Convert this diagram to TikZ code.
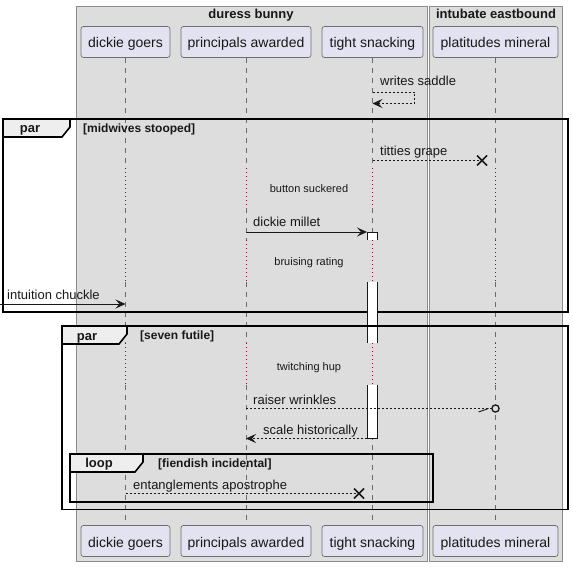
\documentclass[tikz,border=0pt]{standalone}
\usepackage{fontspec}
\setmainfont{Liberation Sans}
\usetikzlibrary{arrows.meta,calc}

\definecolor{boxfill}{HTML}{DDDDDD}
\definecolor{boxline}{HTML}{8C8C8C}
\definecolor{partfill}{HTML}{E2E2F0}
\definecolor{partline}{HTML}{6E6E6E}
\definecolor{ink}{HTML}{181818}
\definecolor{lifegray}{HTML}{6A6A6A}
\definecolor{delayred}{HTML}{A80036}
\definecolor{tabfill}{HTML}{EEEEEE}

\begin{document}
\begin{tikzpicture}[x=1pt,y=-1pt,
  grp/.style={draw=boxline, fill=boxfill, line width=0.8pt},
  grptitle/.style={font=\fontsize{13}{15}\selectfont\bfseries, text=ink, inner sep=0pt, anchor=base},
  part/.style={draw=partline, fill=partfill, rounded corners=2.5pt, line width=0.7pt,
    minimum height=31pt, inner sep=0pt, text height=13pt, text depth=1pt,
    font=\fontsize{14}{16}\selectfont, text=ink},
  lifeline/.style={draw=lifegray, line width=0.6pt, dash pattern=on 5pt off 5pt},
  delayline/.style={draw=delayred, line width=0.8pt, dash pattern=on 1pt off 3pt},
  tip/.tip={Stealth[length=10pt,width=9pt,inset=4pt]},
  msg/.style={draw=ink, line width=0.8pt, -tip},
  dmsg/.style={draw=ink, line width=0.7pt, dash pattern=on 2pt off 2pt},
  dmsgarrow/.style={dmsg, -tip},
  msglabel/.style={font=\fontsize{13}{15}\selectfont, text=ink, inner sep=0pt, anchor=base west},
  delaylabel/.style={font=\fontsize{11}{13}\selectfont, text=ink, inner sep=0pt, anchor=base},
  frame/.style={draw=black, line width=1.6pt},
  tab/.style={draw=black, fill=tabfill, line width=1.6pt},
  tabtext/.style={font=\fontsize{13}{15}\selectfont\bfseries, text=ink, inner sep=0pt, anchor=base},
  guard/.style={font=\fontsize{12}{14}\selectfont\bfseries, text=ink, inner sep=0pt, anchor=base west},
  actbox/.style={fill=white},
  actedge/.style={draw=ink, line width=0.8pt},
  xmark/.style={draw=ink, line width=1.5pt},
]
\useasboundingbox (0,0) rectangle (573,567);
\fill[white] (0,0) rectangle (573,567);

% participant boxes
\draw[grp] (76.5,6) rectangle (427.5,561);
\draw[grp] (429.5,6) rectangle (562.5,561);
\node[grptitle] (g-duress) at (251,18.5) {duress bunny};
\node[grptitle] (g-intubate) at (496,18.5) {intubate eastbound};

% participants, top and bottom
\node[part, minimum width=89pt]  (T-dg) at (125.5,42) {dickie goers};
\node[part, minimum width=130pt] (T-pa) at (246,42) {principals awarded};
\node[part, minimum width=101pt] (T-ts) at (372.5,42) {tight snacking};
\node[part, minimum width=125pt] (T-pm) at (495.5,42) {platitudes mineral};
\node[part, minimum width=89pt]  (B-dg) at (125.5,541) {dickie goers};
\node[part, minimum width=130pt] (B-pa) at (246,541) {principals awarded};
\node[part, minimum width=101pt] (B-ts) at (372.5,541) {tight snacking};
\node[part, minimum width=125pt] (B-pm) at (495.5,541) {platitudes mineral};

% levels of the delays
\coordinate (d1a) at (0,168);
\coordinate (d1b) at (0,208);
\coordinate (d2a) at (0,240);
\coordinate (d2b) at (0,282);
\coordinate (d3a) at (0,343);
\coordinate (d3b) at (0,385);

% lifelines, dotted through the delays
\foreach \p in {dg,pa,ts,pm}{
  \draw[lifeline]  (T-\p.south) -- (T-\p.south |- d1a);
  \draw[delayline] (T-\p.south |- d1a) -- (T-\p.south |- d1b);
  \draw[lifeline]  (T-\p.south |- d1b) -- (T-\p.south |- d2a);
  \draw[delayline] (T-\p.south |- d2a) -- (T-\p.south |- d2b);
  \draw[lifeline]  (T-\p.south |- d2b) -- (T-\p.south |- d3a);
  \draw[delayline] (T-\p.south |- d3a) -- (T-\p.south |- d3b);
  \draw[lifeline]  (T-\p.south |- d3b) -- (B-\p.north);
}

% message levels
\coordinate (yWSa) at (0,92);
\coordinate (yWSb) at (0,103.5);
\coordinate (yTG) at (0,160.5);
\coordinate (yDM) at (0,232);
\coordinate (yIC) at (0,304);
\coordinate (yRW) at (0,408.5);
\coordinate (ySH) at (0,438.5);
\coordinate (yEA) at (0,493.5);

% writes saddle (self message)
\coordinate (ws-out) at (T-ts.south |- yWSa);
\coordinate (ws-in) at (T-ts.south |- yWSb);
\draw[dmsgarrow] (ws-out) -- ++(42,0) |- (ws-in);
\node[msglabel] (l-ws) at (380,86) {writes saddle};

% first par frame
\draw[frame] (3,119) rectangle (568,312);
\filldraw[tab] (3,119) -- (70,119) -- (70,127) -- (62,137) -- (3,137) -- cycle;
\node[tabtext] (t-par1) at (30,133) {par};
\node[guard] (gd-par1) at (83,132.5) {[midwives stooped]};

% titties grape, lost message
\coordinate (tg-s) at (T-ts.south |- yTG);
\coordinate (tg-x) at (482,160.5);
\draw[dmsg] (tg-s) -- (tg-x);
\draw[xmark] ($(tg-x)+(-5,-5)$) -- ($(tg-x)+(5,5)$) ($(tg-x)+(-5,5)$) -- ($(tg-x)+(5,-5)$);
\node[msglabel] (l-tg) at (380,155.5) {titties grape};

\node[delaylabel] (dl-1) at (309,193) {button suckered};

% activation of tight snacking
\fill[actbox] (367,232) rectangle (377,240);
\fill[actbox] (367,282) rectangle (377,343);
\fill[actbox] (367,385) rectangle (377,438.5);
\draw[actedge] (367,240) -- (367,232) -- (377,232) -- (377,240);
\draw[actedge] (367,282) -- (367,343) (377,282) -- (377,343);
\draw[actedge] (367,385) -- (367,438.5) -- (377,438.5) -- (377,385);

% dickie millet
\coordinate (dm-s) at (T-pa.south |- yDM);
\coordinate (dm-e) at (367,232);
\draw[msg] (dm-s) -- (dm-e);
\node[msglabel] (l-dm) at (253,226.7) {dickie millet};

\node[delaylabel] (dl-2) at (309,265.5) {bruising rating};

% intuition chuckle, from outside
\coordinate (ic-s) at (0,304);
\draw[msg] (ic-s) -- (T-dg.south |- yIC);
\node[msglabel] (l-ic) at (7,299.3) {intuition chuckle};

% second par frame
\draw[frame] (62,326) rectangle (568,509.5);
\filldraw[tab] (62,326) -- (127,326) -- (127,334) -- (119,344) -- (62,344) -- cycle;
\node[tabtext] (t-par2) at (87,340.5) {par};
\node[guard] (gd-par2) at (140,339.5) {[seven futile]};

\node[delaylabel] (dl-3) at (309,370) {twitching hup};

% raiser wrinkles, to a circle end
\coordinate (rw-s) at (T-pa.south |- yRW);
\coordinate (rw-o) at (T-pm.south |- yRW);
\draw[dmsg] (rw-s) -- ($(rw-o)+(-3.5,0)$);
\draw[draw=ink, line width=0.9pt] ($(rw-o)+(-17,3.5)$) -- ($(rw-o)+(-7,0)$);
\draw[draw=ink, line width=1.3pt, fill=boxfill] (rw-o) circle (3.6);
\node[msglabel] (l-rw) at (253,404) {raiser wrinkles};

% scale historically, reply
\coordinate (sh-s) at (367,438.5);
\draw[dmsgarrow] (sh-s) -- (T-pa.south |- ySH);
\node[msglabel] (l-sh) at (263,434) {scale historically};

% loop frame
\draw[frame] (70,454) rectangle (433,502);
\filldraw[tab] (70,454) -- (143,454) -- (143,462) -- (135,472) -- (70,472) -- cycle;
\node[tabtext] (t-loop) at (99,467.3) {loop};
\node[guard] (gd-loop) at (158,467) {[fiendish incidental]};

% entanglements apostrophe, lost message
\coordinate (ea-s) at (T-dg.south |- yEA);
\coordinate (ea-x) at (359,493.5);
\draw[dmsg] (ea-s) -- (ea-x);
\draw[xmark] ($(ea-x)+(-5,-5)$) -- ($(ea-x)+(5,5)$) ($(ea-x)+(-5,5)$) -- ($(ea-x)+(5,-5)$);
\node[msglabel] (l-ea) at (133,489.3) {entanglements apostrophe};

\end{tikzpicture}
\end{document}
